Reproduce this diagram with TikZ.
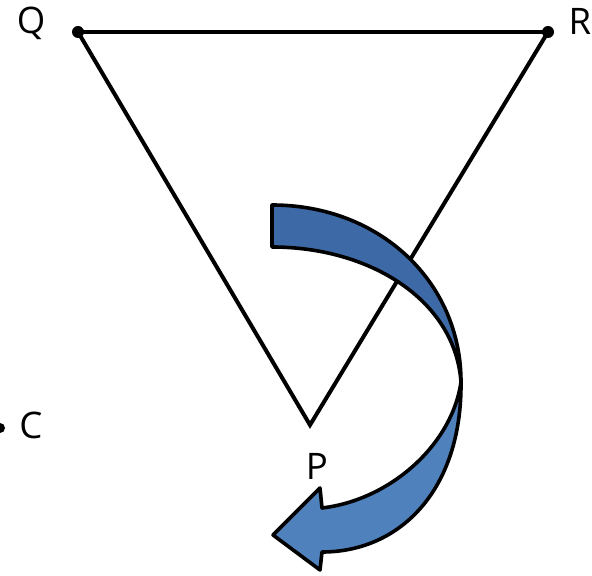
\documentclass[tikz,border=0pt]{standalone}
\usepackage{fontspec}
\setmainfont{Open Sans}
\definecolor{bandback}{RGB}{61,106,166}
\definecolor{bandfront}{RGB}{79,129,189}
\begin{document}
\begin{tikzpicture}[
  x=0.025cm, y=-0.025cm,
  every node/.style={inner sep=1pt, font=\fontsize{26}{30}\selectfont},
  dot/.style={circle, fill, inner sep=0pt, minimum size=3mm},
  side/.style={line width=0.1cm},
  band/.style={draw, line width=0.09cm, line join=round}
]
  \useasboundingbox (0,0) rectangle (592,576);

  \node[dot] (Q) at (78,32) {};
  \node[dot] (R) at (548,32) {};
  \coordinate (P) at (310,425);
  \node[dot, minimum size=2.5mm] (C) at (0,428) {};

  \node (qlab) at (31,23) {Q};
  \node (rlab) at (580,21) {R};
  \node (plab) at (317,466) {P};
  \node (clab) at (31,425) {C};

  \draw[side] (Q.center) -- (R.center);
  \draw[side, line join=miter] (Q.center) -- (P) -- (R.center);

  % curved arrow
  \coordinate (twist) at (461,382);
  \filldraw[band, fill=bandback] (272,205) .. controls (380,205) and (461,282) .. (twist)
    .. controls (455,300) and (370,247) .. (272,247) -- cycle;
  \filldraw[band, fill=bandfront] (twist) .. controls (452,445) and (390,500) .. (322,508)
    -- (320,488) -- (273,535) -- (320,570) -- (322,552)
    .. controls (400,552) and (462,490) .. (twist) -- cycle;
\end{tikzpicture}
\end{document}
